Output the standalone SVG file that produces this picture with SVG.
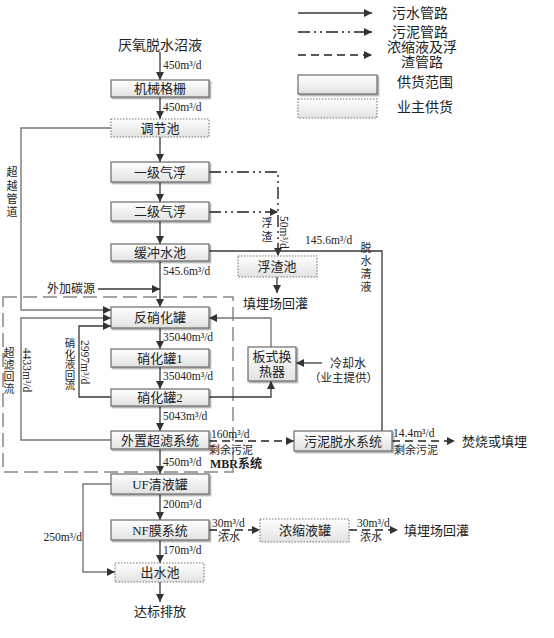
<svg xmlns="http://www.w3.org/2000/svg" width="554" height="638" viewBox="0 0 554 638">
<defs>
<linearGradient id="g" x1="0" y1="0" x2="0" y2="1"><stop offset="0" stop-color="#ffffff"/><stop offset="1" stop-color="#e2e2e2"/></linearGradient>
<filter id="sh" x="-10%" y="-20%" width="130%" height="160%"><feDropShadow dx="1.5" dy="1.5" stdDeviation="0.7" flood-color="#000" flood-opacity="0.35"/></filter>
<marker id="a" viewBox="0 0 10 10" refX="10" refY="5" markerWidth="8" markerHeight="8" markerUnits="userSpaceOnUse" orient="auto"><path d="M0,0 L10,5 L0,10 z" fill="#333"/></marker>
<marker id="h" viewBox="0 0 10 10" refX="0" refY="5" markerWidth="7" markerHeight="7" markerUnits="userSpaceOnUse" orient="auto"><path d="M10,1 L0,5 L10,9 z" fill="#fff" stroke="#333" stroke-width="1.3"/></marker>
</defs>
<style>
text{font-family:"Liberation Serif","Noto Sans CJK SC",serif;fill:#222}
.t{font-size:13px;text-anchor:middle}
.l{font-size:11.5px}
.lc{font-size:11px}
.c{font-size:11px;text-anchor:middle}
.box{fill:url(#g);stroke:#6a6a6a;stroke-width:1.2;filter:url(#sh)}
.own{fill:url(#g);stroke:#777;stroke-width:1.1;stroke-dasharray:1.5,1.5}
.w{fill:none;stroke:#3a3a3a;stroke-width:1.3}
.gr{fill:none;stroke:#777;stroke-width:1.4}
.sl{fill:none;stroke:#222;stroke-width:1.4;stroke-dasharray:12,4,2,4,2,4}
.ds{fill:none;stroke:#222;stroke-width:1.4;stroke-dasharray:8,5}
.mbr{fill:none;stroke:#888;stroke-width:1.5;stroke-dasharray:14,6}
</style>

<g id="legend">
<path class="w" d="M298,13 H372" marker-end="url(#a)"/>
<path class="sl" d="M298,32 H372" marker-end="url(#a)"/>
<path class="ds" d="M298,55 H372" marker-end="url(#a)"/>
<rect class="box" x="298" y="75" width="79" height="19"/>
<rect class="own" x="298" y="99" width="79" height="19"/>
<text x="392" y="18" style="font-size:14px">污水管路</text>
<text x="392" y="37" style="font-size:14px">污泥管路</text>
<text x="422" y="52" style="font-size:14px;text-anchor:middle">浓缩液及浮</text>
<text x="422" y="67" style="font-size:14px;text-anchor:middle">渣管路</text>
<text x="397" y="87" style="font-size:14px">供货范围</text>
<text x="397" y="112" style="font-size:14px">业主供货</text>
</g>

<rect id="mbr-frame" class="mbr" x="3" y="297" width="230" height="175"/>

<g id="connectors">
<path class="w" d="M160,52 V80" marker-end="url(#a)"/>
<path class="w" d="M160,97 V119" marker-end="url(#a)"/>
<path class="w" d="M160,137 V162" marker-end="url(#a)"/>
<path class="w" d="M160,182 V202" marker-end="url(#a)"/>
<path class="w" d="M160,221 V244" marker-end="url(#a)"/>
<path class="w" d="M160,261 V307" marker-end="url(#a)"/>
<path class="w" d="M160,328 V349" marker-end="url(#a)"/>
<path class="w" d="M160,367 V389" marker-end="url(#a)"/>
<path class="w" d="M160,406 V431" marker-end="url(#a)"/>
<path class="w" d="M160,449 V474" marker-end="url(#a)"/>
<path class="w" d="M160,494 V520" marker-end="url(#a)"/>
<path class="w" d="M160,540 V563" marker-end="url(#a)"/>
<path class="w" d="M160,582 V602" marker-end="url(#a)"/>
<path class="w" d="M98,289 H160" marker-end="url(#a)"/>
<path class="gr" d="M111,128 H21 V310 H111" marker-end="url(#a)"/>
<path class="gr" d="M111,440 H21 V318 H111" marker-end="url(#a)"/>
<path class="w" d="M111,397 H79 V326 H111" marker-end="url(#a)"/>
<path class="sl" d="M209,172 H278 V256" marker-end="url(#a)"/>
<path class="sl" d="M209,212 H278" marker-end="url(#a)"/>
<path class="w" d="M277,277 V293" marker-end="url(#a)"/>
<path class="w" d="M382,431 V251 H210" marker-end="url(#h)"/>
<path class="gr" d="M271,347 V318 H209" marker-end="url(#a)"/>
<path class="w" d="M209,397 H271 V381" marker-end="url(#a)"/>
<path class="w" d="M322,363 H296" marker-end="url(#a)"/>
<path class="ds" d="M209,441 H294" marker-end="url(#a)"/>
<path class="ds" d="M392,441 H455" marker-end="url(#a)"/>
<path class="gr" d="M111,484 H83 V572 H115" marker-end="url(#a)"/>
<path class="ds" d="M209,530 H260" marker-end="url(#a)"/>
<path class="ds" d="M349,530 H398" marker-end="url(#a)"/>
</g>

<g id="labels">
<text class="l" x="163" y="69">450m³/d</text>
<text class="l" x="163" y="111">450m³/d</text>
<text class="l" x="163" y="275">545.6m³/d</text>
<text class="l" x="163" y="341">35040m³/d</text>
<text class="l" x="163" y="380">35040m³/d</text>
<text class="l" x="163" y="420">5043m³/d</text>
<text class="l" x="163" y="466">450m³/d</text>
<text class="l" x="163" y="508">200m³/d</text>
<text class="l" x="163" y="554">170m³/d</text>
<text class="l" x="82" y="541" text-anchor="end">250m³/d</text>
<text class="l" x="211" y="438">160m³/d</text>
<text class="lc" x="209" y="454">剩余污泥</text>
<text class="l" x="393" y="437">14.4m³/d</text>
<text class="lc" x="394" y="454">剩余污泥</text>
<text class="l" x="212" y="527">30m³/d</text>
<text class="lc" x="218" y="541">浓水</text>
<text class="l" x="357" y="527">30m³/d</text>
<text class="lc" x="360" y="541">浓水</text>
<text class="l" x="305" y="244">145.6m³/d</text>
<text class="l" x="81" y="340" transform="rotate(90 81 340)">2997m³/d</text>
<text class="l" x="23" y="348" transform="rotate(90 23 348)">4433m³/d</text>
<text class="l" x="280" y="216" transform="rotate(90 280 216)">50m³/d</text>
<text x="47" y="293" style="font-size:12px">外加碳源</text>
<text x="210" y="468" style="font-size:12px;font-weight:bold">MBR系统</text>
<text class="c" x="12"><tspan x="12" y="176">超</tspan><tspan x="12" y="190">越</tspan><tspan x="12" y="203">管</tspan><tspan x="12" y="216">道</tspan></text>
<text class="c" x="9"><tspan x="9" y="357">超</tspan><tspan x="9" y="369">滤</tspan><tspan x="9" y="381">回</tspan><tspan x="9" y="393">流</tspan></text>
<text class="c" x="70" style="font-size:10.5px"><tspan x="70" y="347">硝</tspan><tspan x="70" y="357.5">化</tspan><tspan x="70" y="368">液</tspan><tspan x="70" y="378.5">回</tspan><tspan x="70" y="389">流</tspan></text>
<text class="c" x="267"><tspan x="267" y="227">浮</tspan><tspan x="267" y="241">渣</tspan></text>
<text class="c" x="366"><tspan x="366" y="252">脱</tspan><tspan x="366" y="265">水</tspan><tspan x="366" y="278">清</tspan><tspan x="366" y="291">液</tspan></text>
</g>

<g id="n-source"><text x="160" y="50" style="font-size:14px;text-anchor:middle">厌氧脱水沼液</text></g>
<g id="n-grille"><rect class="box" x="111" y="80" width="98" height="17"/><text class="t" x="160" y="93">机械格栅</text></g>
<g id="n-regulate"><rect class="own" x="111" y="119" width="98" height="18"/><text class="t" x="160" y="133">调节池</text></g>
<g id="n-flot1"><rect class="box" x="111" y="162" width="98" height="20"/><text class="t" x="160" y="177">一级气浮</text></g>
<g id="n-flot2"><rect class="box" x="111" y="202" width="98" height="19"/><text class="t" x="160" y="216">二级气浮</text></g>
<g id="n-buffer"><rect class="box" x="111" y="244" width="98" height="17"/><text class="t" x="160" y="257">缓冲水池</text></g>
<g id="n-denit"><rect class="box" x="111" y="307" width="98" height="21"/><text class="t" x="160" y="322">反硝化罐</text></g>
<g id="n-nit1"><rect class="box" x="111" y="349" width="98" height="18"/><text class="t" x="160" y="363">硝化罐1</text></g>
<g id="n-nit2"><rect class="box" x="111" y="389" width="98" height="17"/><text class="t" x="160" y="402">硝化罐2</text></g>
<g id="n-uf"><rect class="box" x="111" y="431" width="98" height="18"/><text class="t" x="160" y="445">外置超滤系统</text></g>
<g id="n-uftank"><rect class="box" x="111" y="474" width="98" height="20"/><text class="t" x="160" y="489">UF清液罐</text></g>
<g id="n-nf"><rect class="box" x="111" y="520" width="98" height="20"/><text class="t" x="160" y="535">NF膜系统</text></g>
<g id="n-out"><rect class="own" x="115" y="563" width="89" height="19"/><text class="t" x="160" y="577">出水池</text></g>
<g id="n-discharge"><text class="t" x="160" y="616">达标排放</text></g>
<g id="n-scum"><rect class="own" x="238" y="256" width="79" height="21"/><text class="t" x="277" y="271">浮渣池</text></g>
<g id="n-landfill1"><text x="243" y="308" style="font-size:13px">填埋场回灌</text></g>
<g id="n-hex"><rect class="box" x="248" y="347" width="48" height="34"/><text class="t" x="272" y="361">板式换</text><text class="t" x="272" y="376">热器</text></g>
<g id="n-cool"><text x="330" y="368" style="font-size:12px">冷却水</text><text x="309" y="382" style="font-size:11.5px">（业主提供）</text></g>
<g id="n-dewater"><rect class="box" x="294" y="431" width="98" height="20"/><text class="t" x="343" y="446">污泥脱水系统</text></g>
<g id="n-burn"><text x="462" y="446" style="font-size:13px">焚烧或填埋</text></g>
<g id="n-conc"><rect class="own" x="260" y="519" width="89" height="23"/><text class="t" x="305" y="535">浓缩液罐</text></g>
<g id="n-landfill2"><text x="404" y="535" style="font-size:13px">填埋场回灌</text></g>
</svg>
